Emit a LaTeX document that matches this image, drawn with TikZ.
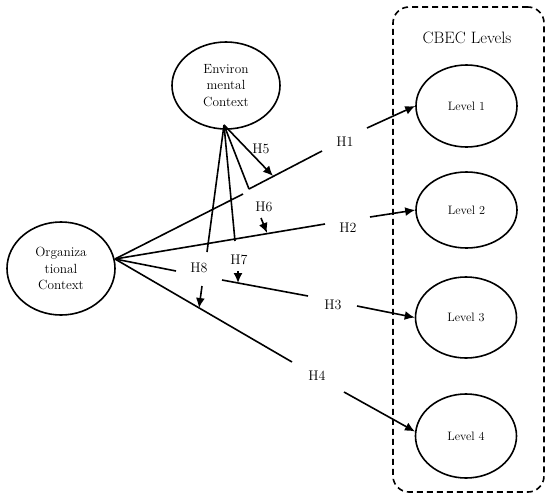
\documentclass[tikz,border=0pt]{standalone}
\usepackage{fontspec}
\setmainfont{Latin Modern Roman}
\usetikzlibrary{shapes.geometric,arrows.meta}
\begin{document}
\begin{tikzpicture}[x=1pt,y=-1pt,line width=1.6pt,
  ell/.style={draw,ellipse,inner sep=0pt,align=center},
  lvl/.style={ell,minimum width=101pt,font=\fontsize{12.2}{14}\selectfont},
  ctxt/.style={ell,font=\fontsize{13.3}{16.5}\selectfont},
  hyp/.style={inner sep=1pt,font=\fontsize{14}{16}\selectfont},
  arr/.style={-{Latex[length=10pt,width=9pt]}}]
\useasboundingbox (0,0) rectangle (550,499);
% box
\node[draw,rounded corners=16pt,dash pattern=on 6pt off 4pt,minimum width=151pt,minimum height=485pt,inner sep=0pt] (box) at (468.5,249.5) {};
\node[font=\fontsize{16.5}{18}\selectfont] (title) at (467,38) {CBEC Levels};
% levels
\node[lvl,minimum height=82pt] (L1) at (466.5,106) {Level 1};
\node[lvl,minimum height=76pt] (L2) at (466.5,210) {Level 2};
\node[lvl,minimum height=81pt] (L3) at (466,317.5) {Level 3};
\node[lvl,minimum height=84pt] (L4) at (466,436) {Level 4};
% contexts
\node[ctxt,minimum width=108pt,minimum height=87pt] (env) at (226,85.5) {Environ\\mental\\Context};
\node[ctxt,minimum width=108pt,minimum height=93pt] (org) at (61,268.5) {Organiza\\tional\\Context};
% hypothesis labels
\node[hyp] (h1) at (345,142) {H1};
\node[hyp] (h2) at (348,228) {H2};
\node[hyp] (h3) at (333,305) {H3};
\node[hyp] (h4) at (317,376) {H4};
\node[hyp] (h5) at (261,149) {H5};
\node[hyp] (h6) at (264,207) {H6};
\node[hyp] (h7) at (239,260) {H7};
\node[hyp] (h8) at (199,268) {H8};
% coordinates
\coordinate (hub) at (115,259);
\coordinate (ctx) at (224,125);
\coordinate (a1) at (243,194);
\coordinate (b1) at (249,189);
\coordinate (c1) at (322,151);
\coordinate (d1) at (367,128);
\coordinate (c2) at (325,224);
\coordinate (d2) at (370,217);
\coordinate (a3) at (176,271);
\coordinate (b3) at (222,280);
\coordinate (c3) at (308,296);
\coordinate (d3) at (357,306);
\coordinate (c4) at (292,362);
\coordinate (d4) at (344,392);
\coordinate (t5) at (273,176);
\coordinate (s6) at (261,218);
\coordinate (t6) at (267,233);
\coordinate (e6) at (235,241);
\coordinate (e8) at (207,252);
\coordinate (s7) at (238,271);
\coordinate (t7) at (238,283);
\coordinate (s8) at (202,286);
\coordinate (t8) at (199,308);
% main paths
\draw (hub) -- (a1);
\draw (b1) -- (c1);
\draw[arr] (d1) -- (L1.west);
\draw (hub) -- (c2);
\draw[arr] (d2) -- (L2.west);
\draw (hub) -- (a3);
\draw (b3) -- (c3);
\draw[arr] (d3) -- (L3.west);
\draw (hub) -- (c4);
\draw[arr] (d4) -- (L4.175);
% moderation
\draw[arr] (ctx) -- (t5);
\draw (ctx) -- (b1);
\draw (ctx) -- (e6);
\draw (ctx) -- (e8);
\draw[arr] (s6) -- (t6);
\draw[arr] (s7) -- (t7);
\draw[arr] (s8) -- (t8);
\end{tikzpicture}
\end{document}
